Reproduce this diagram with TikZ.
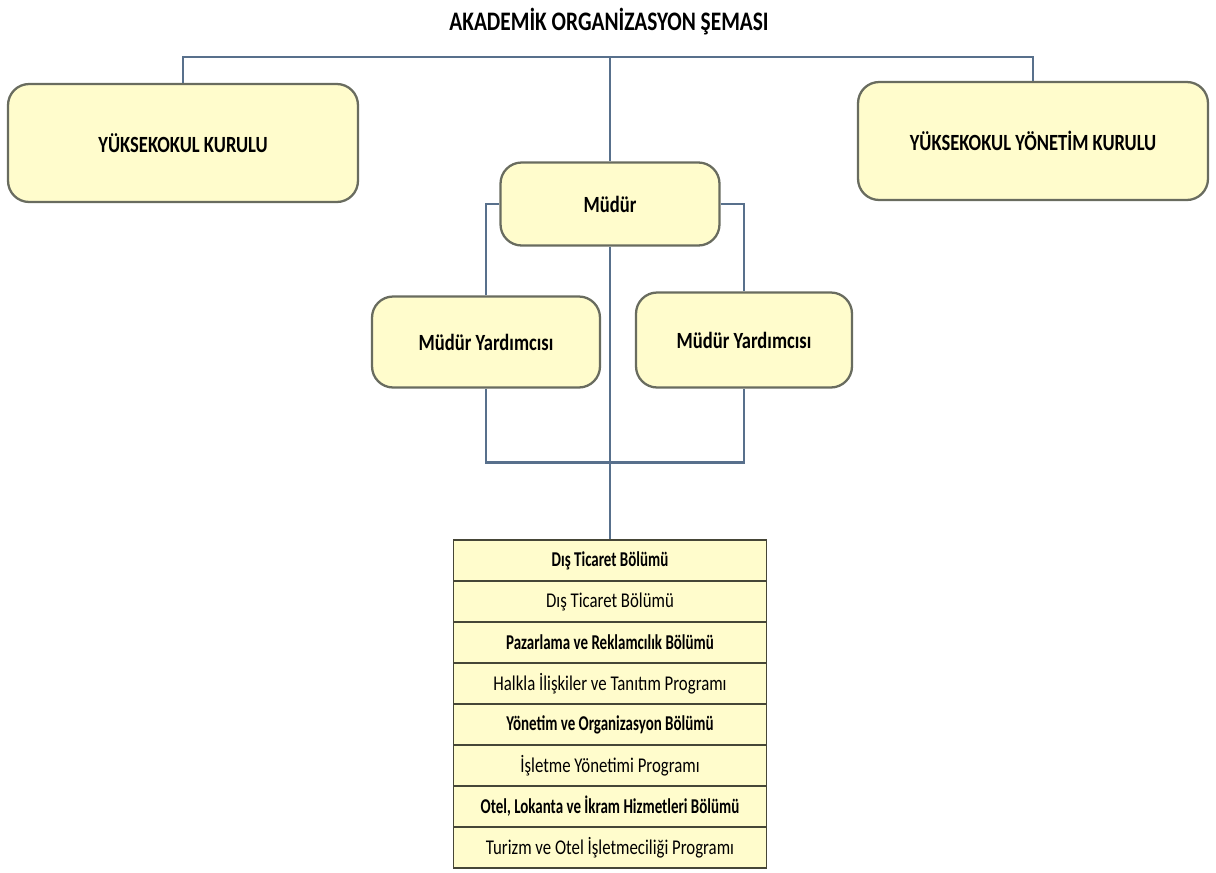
\documentclass[tikz,border=0pt]{standalone}
\usepackage{fontspec}
\setmainfont{Carlito}[FakeStretch=0.8]
\newfontfamily\deptfam{Carlito}[FakeStretch=0.71]
\usepackage{xcolor}
\usepackage{tikz}

\definecolor{boxfill}{RGB}{255,252,204}
\definecolor{boxline}{RGB}{105,108,95}
\definecolor{wire}{RGB}{88,112,140}
\definecolor{rowline}{RGB}{70,70,55}

\tikzset{
  board/.style={draw=boxline,line width=1.3pt,fill=boxfill,rounded corners=12pt,
    font=\bfseries\fontsize{13.2}{15}\selectfont,align=center,inner sep=0pt},
  row/.style={draw=rowline,line width=0.9pt,fill=boxfill,minimum width=6.26cm,
    minimum height=0.82cm,inner sep=0pt},
  link/.style={draw=wire,line width=1.3pt}
}
\newcommand{\deptfont}{\deptfam\bfseries\fontsize{12}{14}\selectfont}
\newcommand{\progfont}{\fontsize{11.95}{14}\selectfont}

\begin{document}
\begin{tikzpicture}[x=0.02cm,y=-0.02cm]
\useasboundingbox (0,0) rectangle (1216,872);

% Title
\node[font=\bfseries\fontsize{15.2}{17}\selectfont] (title) at (609,22) {AKADEMİK ORGANİZASYON ŞEMASI};

% Boards
\node[board,minimum width=7cm,minimum height=2.36cm] (ykk) at (183,143) {YÜKSEKOKUL KURULU};
\node[board,minimum width=7cm,minimum height=2.36cm] (yyk) at (1033,141) {YÜKSEKOKUL YÖNETİM KURULU};
\node[board,minimum width=4.38cm,minimum height=1.66cm] (mudur) at (610,204) {Müdür};
\node[board,minimum width=4.56cm,minimum height=1.82cm] (myl) at (486,342) {Müdür Yardımcısı};
\node[board,minimum width=4.32cm,minimum height=1.9cm] (myr) at (744,340) {Müdür Yardımcısı};

% Departments and programmes
\foreach \i/\t/\f in {1/{Dış Ticaret Bölümü}/\deptfont,
                      2/{Dış Ticaret Bölümü}/\progfont,
                      3/{Pazarlama ve Reklamcılık Bölümü}/\deptfont,
                      4/{Halkla İlişkiler ve Tanıtım Programı}/\progfont,
                      5/{Yönetim ve Organizasyon Bölümü}/\deptfont,
                      6/{İşletme Yönetimi Programı}/\progfont,
                      7/{Otel, Lokanta ve İkram Hizmetleri Bölümü}/\deptfont,
                      8/{Turizm ve Otel İşletmeciliği Programı}/\progfont}
  \node[row] (r\i) at (610,{540+41*(\i-0.5)}) {\f\t};

% Links
\coordinate (bar) at (610,57);
\draw[link] (ykk.north) |- (bar) -| (yyk.north);
\draw[link] (bar) -- (mudur.north);
\draw[link] (mudur.west) -| (myl.north);
\draw[link] (mudur.east) -| (myr.north);
\draw[link] (myl.south) -- ++(0,74) -| (myr.south);
\draw[link] (mudur.south) -- (r1.north);
\end{tikzpicture}
\end{document}
